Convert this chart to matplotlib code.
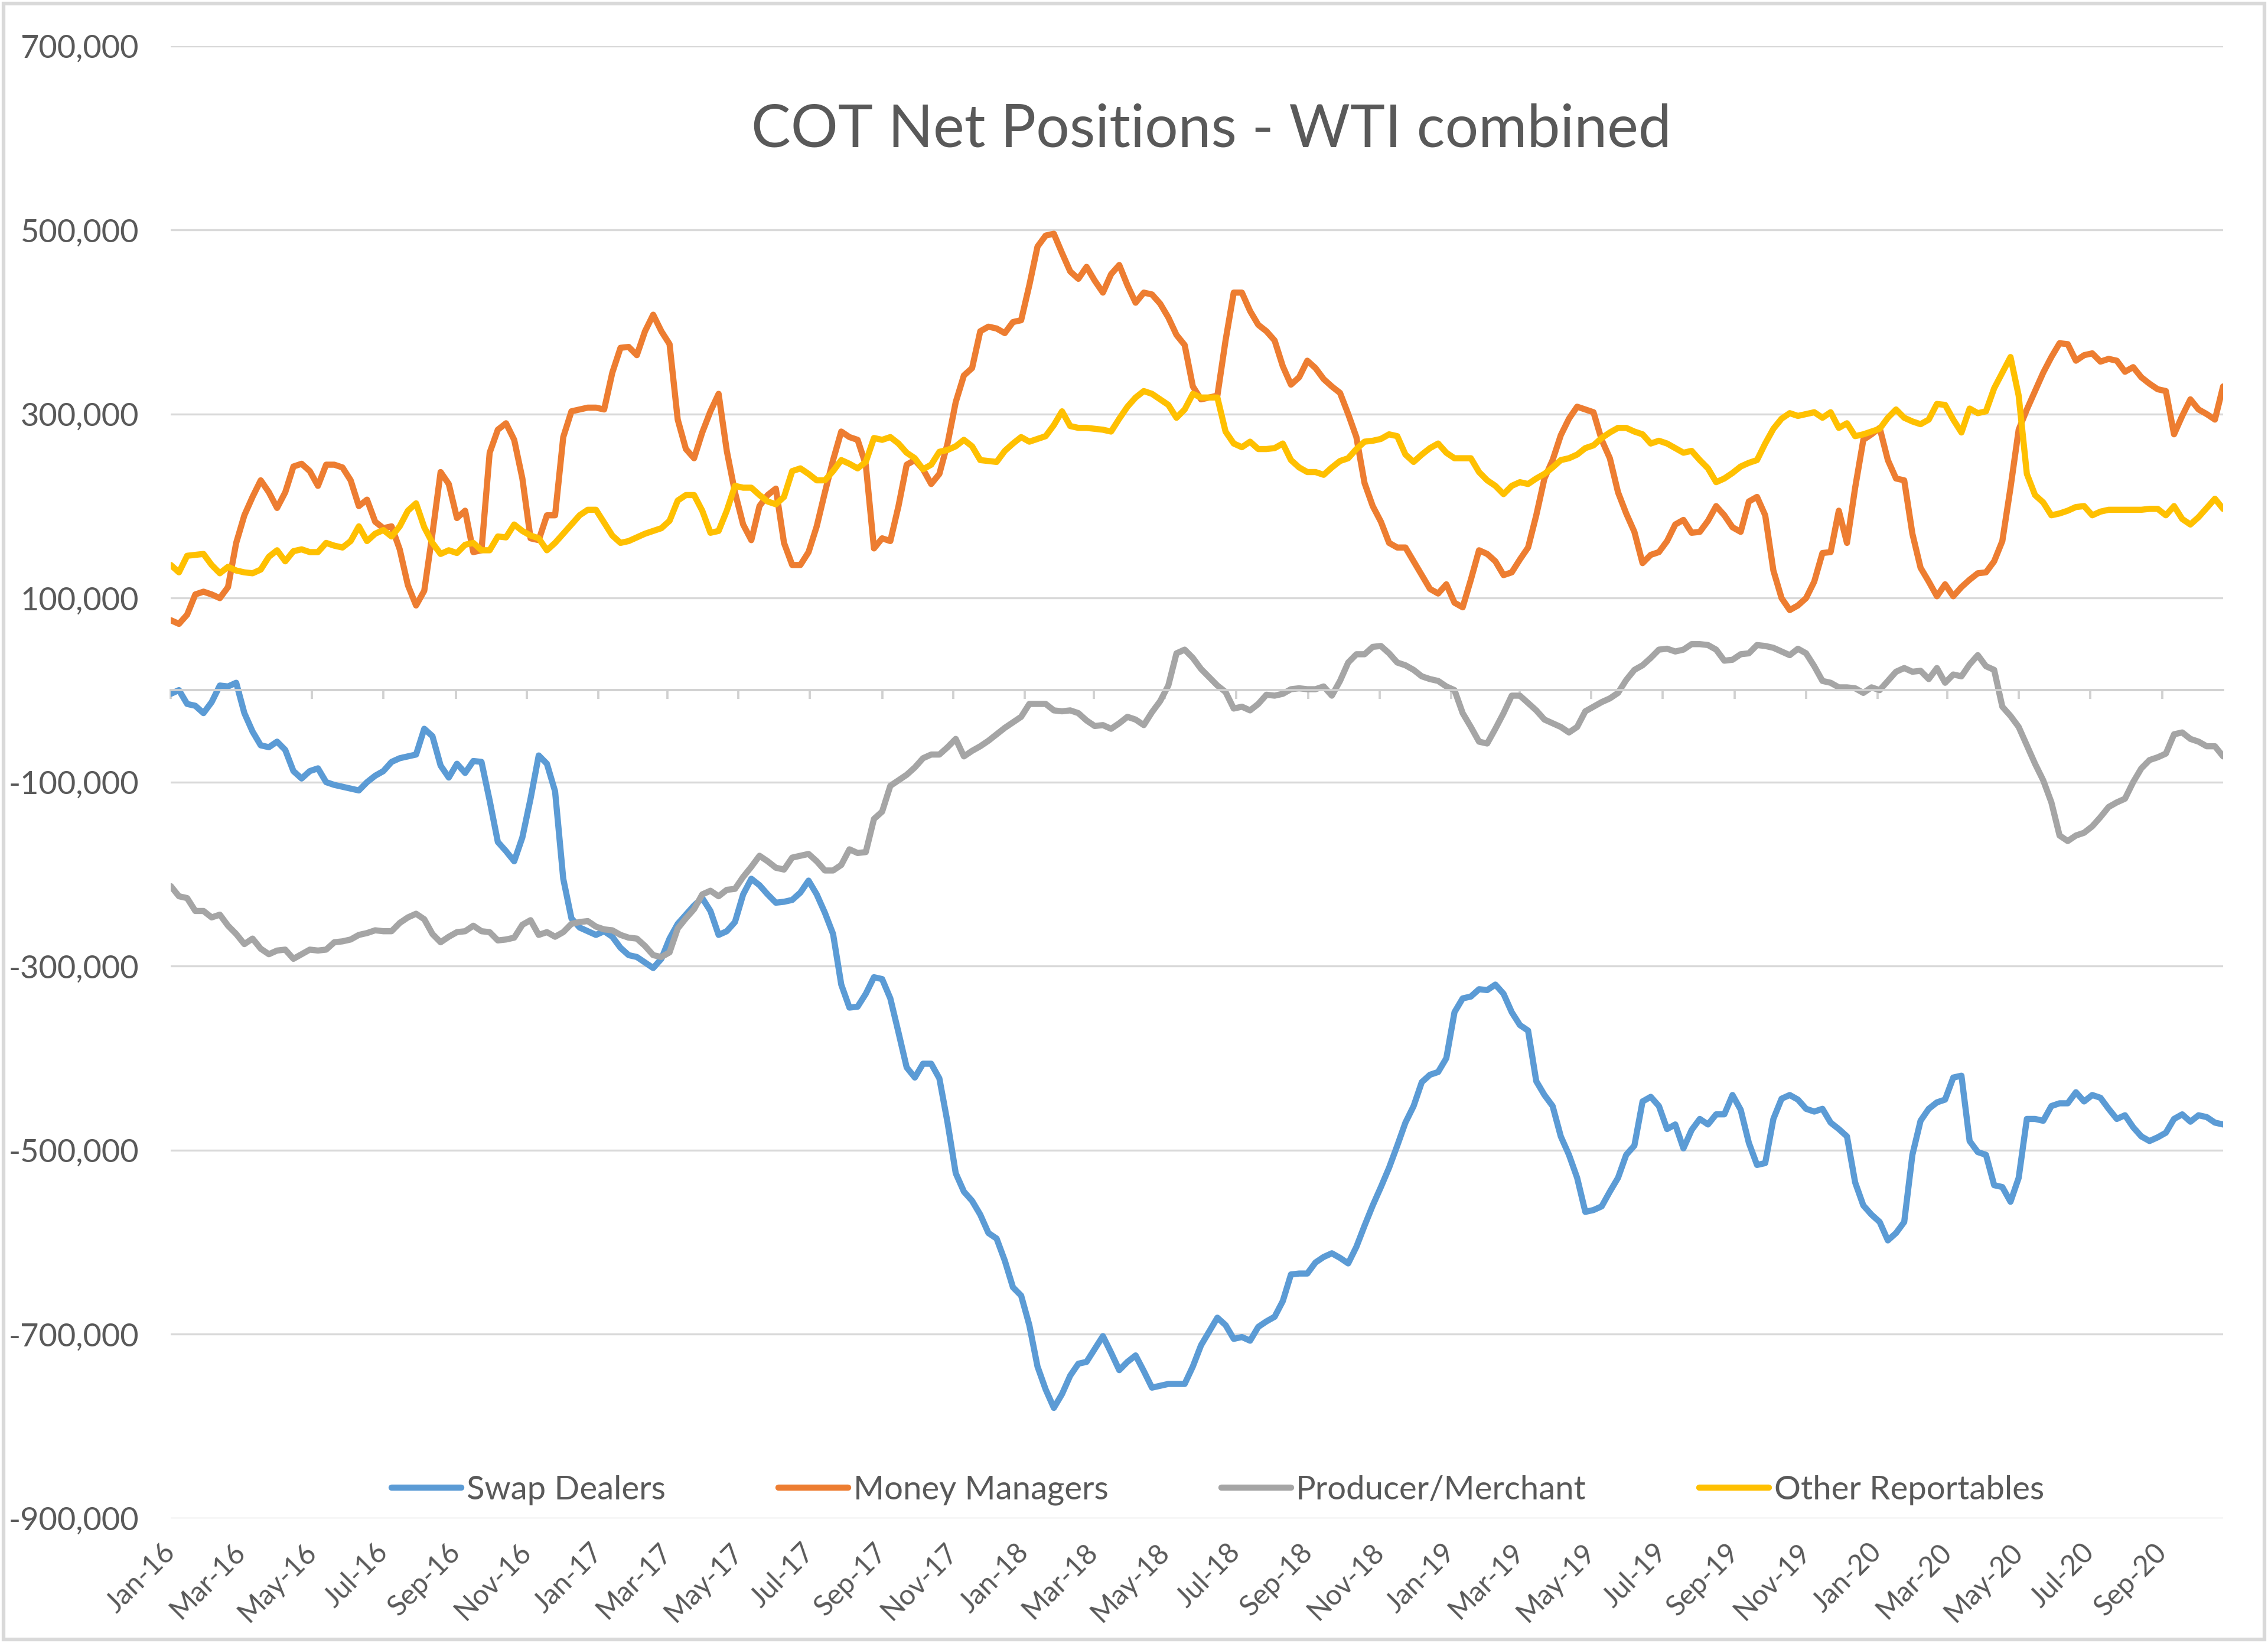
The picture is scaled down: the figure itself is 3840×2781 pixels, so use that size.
import matplotlib
matplotlib.use('Agg')
import matplotlib.pyplot as plt
import matplotlib.dates as mdates
from matplotlib.patches import Rectangle
from datetime import date, timedelta

plt.rcParams['font.family'] = ['Lato', 'DejaVu Sans']

# weekly COT reports, Tuesdays from 5 Jan 2016
n_weeks = 252
report_dates = [date(2016, 1, 5) + timedelta(weeks=i) for i in range(n_weeks)]

# net positions in thousands of contracts
swap_dealers = [
    -4, 0, -15, -17, -25, -13, 5, 4, 8, -25,
    -45, -60, -62, -56, -65, -88, -96, -88, -85, -100,
    -103, -105, -107, -109, -100, -93, -88, -78, -74, -72,
    -70, -42, -50, -82, -95, -80, -90, -77, -78, -120,
    -165, -175, -186, -160, -118, -71, -80, -110, -205, -248,
    -258, -262, -266, -262, -268, -280, -288, -290, -296, -302,
    -292, -270, -254, -244, -234, -226, -240, -266, -262, -252,
    -222, -205, -212, -222, -231, -230, -228, -220, -207, -222,
    -242, -265, -320, -345, -344, -330, -312, -314, -335, -372,
    -410, -421, -406, -406, -422, -470, -525, -545, -555, -570,
    -590, -596, -620, -649, -658, -690, -735, -760, -780, -765,
    -745, -732, -730, -716, -702, -720, -739, -730, -723, -740,
    -758, -756, -754, -754, -754, -735, -712, -697, -682, -690,
    -705, -703, -707, -692, -686, -681, -664, -635, -634, -634,
    -622, -616, -612, -617, -623, -605, -582, -560, -540, -519,
    -495, -470, -452, -426, -418, -415, -400, -350, -335, -333,
    -325, -326, -320, -330, -350, -364, -370, -425, -440, -452,
    -485, -505, -530, -567, -565, -561, -545, -530, -505, -495,
    -447, -442, -452, -477, -472, -498, -478, -466, -472, -461,
    -461, -440, -456, -492, -516, -514, -466, -444, -440, -445,
    -455, -458, -455, -470, -477, -485, -535, -560, -570, -578,
    -598, -590, -578, -505, -468, -455, -448, -445, -421, -419,
    -490, -502, -505, -538, -540, -556, -530, -466, -466, -468,
    -452, -449, -449, -437, -447, -440, -443, -455, -466, -462,
    -475, -485, -490, -486, -481, -466, -461, -469, -462, -464,
    -470, -472,
]

money_managers = [
    76, 72, 82, 104, 107, 104, 100, 112, 160, 190,
    210, 228, 215, 198, 215, 243, 246, 238, 222, 245,
    245, 242, 228, 200, 207, 183, 176, 178, 153, 114,
    92, 108, 170, 237, 224, 187, 195, 150, 152, 258,
    283, 290, 272, 230, 165, 163, 190, 190, 275, 303,
    305, 307, 307, 305, 345, 372, 373, 364, 390, 408,
    390, 376, 294, 262, 252, 280, 303, 322, 260, 215,
    180, 163, 200, 212, 219, 160, 136, 136, 150, 178,
    215, 250, 281, 275, 272, 245, 154, 165, 162, 200,
    245, 250, 240, 224, 235, 268, 313, 342, 350, 390,
    395, 393, 388, 400, 402, 440, 482, 494, 496, 475,
    455, 447, 460, 445, 432, 452, 462, 440, 421, 432,
    430, 420, 405, 386, 375, 330, 316, 318, 320, 380,
    432, 432, 412, 397, 390, 380, 352, 332, 340, 358,
    350, 338, 330, 323, 300, 275, 225, 200, 183, 160,
    155, 155, 140, 125, 110, 105, 115, 95, 90, 120,
    152, 148, 140, 125, 128, 142, 155, 190, 230, 250,
    277, 295, 308, 305, 302, 272, 252, 215, 192, 172,
    138, 147, 150, 162, 180, 185, 171, 172, 184, 200,
    190, 177, 172, 205, 210, 190, 130, 100, 87, 92,
    100, 118, 149, 150, 195, 160, 220, 272, 278, 285,
    250, 230, 228, 170, 133, 118, 102, 115, 102, 112,
    120, 127, 128, 140, 162, 220, 283, 305, 325, 345,
    362, 377, 376, 358, 364, 366, 357, 360, 358, 346,
    351, 340, 333, 327, 325, 278, 298, 316, 305, 300,
    294, 330,
]

producer_merchant = [
    -213, -224, -226, -240, -240, -247, -244, -256, -265, -276,
    -270, -281, -287, -283, -282, -292, -287, -282, -283, -282,
    -274, -273, -271, -266, -264, -261, -262, -262, -253, -247,
    -243, -249, -265, -274, -268, -263, -262, -256, -262, -263,
    -272, -271, -269, -255, -250, -266, -263, -268, -263, -254,
    -252, -251, -257, -260, -261, -266, -269, -270, -278, -288,
    -290, -285, -259, -248, -238, -222, -218, -224, -217, -216,
    -203, -192, -180, -186, -193, -195, -182, -180, -178, -186,
    -196, -196, -190, -173, -177, -176, -140, -132, -104, -98,
    -92, -84, -74, -70, -70, -62, -53, -72, -66, -61,
    -55, -48, -41, -35, -29, -15, -15, -15, -22, -23,
    -22, -25, -33, -39, -38, -42, -36, -29, -32, -38,
    -24, -12, 5, 40, 44, 35, 23, 14, 5, -2,
    -20, -18, -22, -15, -5, -6, -4, 1, 2, 1,
    1, 4, -6, 10, 30, 39, 39, 47, 48, 40,
    30, 27, 22, 15, 12, 10, 4, 0, -25, -40,
    -56, -58, -42, -25, -6, -6, -14, -22, -32, -36,
    -40, -46, -40, -23, -18, -13, -9, -3, 11, 22,
    27, 35, 44, 45, 42, 44, 50, 50, 49, 44,
    32, 33, 39, 40, 49, 48, 46, 42, 38, 45,
    40, 26, 10, 8, 3, 3, 2, -3, 3, 0,
    10, 20, 24, 20, 21, 12, 24, 8, 17, 15,
    28, 38, 26, 22, -18, -28, -40, -60, -80, -98,
    -122, -158, -164, -158, -155, -148, -138, -127, -122, -118,
    -100, -85, -76, -73, -69, -48, -46, -53, -56, -61,
    -61, -72,
]

other_reportables = [
    136, 128, 146, 147, 148, 136, 127, 134, 130, 128,
    127, 131, 145, 152, 140, 151, 153, 150, 150, 160,
    157, 155, 162, 178, 162, 170, 174, 167, 178, 195,
    203, 177, 160, 148, 152, 149, 158, 160, 152, 152,
    167, 166, 180, 173, 168, 165, 152, 160, 170, 180,
    190, 196, 196, 182, 168, 160, 162, 166, 170, 173,
    176, 184, 206, 212, 212, 195, 171, 173, 195, 222,
    220, 220, 212, 205, 202, 210, 238, 241, 235, 228,
    228, 238, 250, 246, 241, 248, 274, 272, 275, 268,
    258, 252, 240, 245, 259, 261, 265, 272, 265, 250,
    249, 248, 260, 268, 275, 270, 273, 276, 288, 303,
    287, 285, 285, 284, 283, 281, 295, 308, 318, 325,
    322, 316, 310, 296, 305, 322, 318, 318, 318, 281,
    268, 264, 270, 262, 262, 263, 268, 250, 242, 237,
    237, 234, 242, 249, 252, 262, 270, 271, 273, 278,
    276, 256, 248, 256, 263, 268, 258, 252, 252, 252,
    237, 228, 222, 213, 222, 226, 224, 230, 235, 242,
    250, 252, 256, 263, 266, 274, 280, 285, 285, 281,
    278, 268, 271, 268, 263, 258, 260, 250, 241, 226,
    230, 236, 243, 247, 250, 268, 284, 295, 301, 298,
    300, 302, 296, 302, 285, 290, 276, 278, 281, 284,
    296, 305, 296, 292, 289, 294, 311, 310, 294, 280,
    306, 301, 303, 328, 345, 362, 320, 235, 212, 204,
    190, 192, 195, 199, 200, 190, 194, 196, 196, 196,
    196, 196, 197, 197, 190, 200, 186, 180, 188, 198,
    208, 197,
]

series_names = ['Swap Dealers', 'Money Managers', 'Producer/Merchant', 'Other Reportables']
series_colors = ['#5B9BD5', '#ED7D31', '#A5A5A5', '#FFC000']
series_values = [swap_dealers, money_managers, producer_merchant, other_reportables]

# axis ticks every two months from the first report
tick_dates = [date(2016 + (2 * k) // 12, (2 * k) % 12 + 1, 5) for k in range(29)]
tick_labels = [d.strftime('%b-%y') for d in tick_dates]
y_ticks = list(range(-900000, 700001, 200000))

text_color = '#595959'
grid_color = '#d9d9d9'

fig = plt.figure(figsize=(12.8, 9.27), dpi=300)
ax = fig.add_axes([0.0753, 0.0759, 0.9049, 0.8961])

handles = []
for name, color, vals in zip(series_names, series_colors, series_values):
    line, = ax.plot(report_dates, [v * 1000 for v in vals], color=color, lw=2.5,
                    label=name, solid_joinstyle='round', solid_capstyle='round')
    handles.append(line)

ax.set_xlim(report_dates[0], report_dates[-1])
ax.set_ylim(-900000, 700000)
ax.set_yticks(y_ticks)
ax.set_yticklabels([f'{v:,}' for v in y_ticks])
ax.grid(axis='y', color=grid_color, lw=0.8)
ax.set_axisbelow(True)

for side in ['left', 'right', 'top']:
    ax.spines[side].set_visible(False)
# horizontal axis line sits at zero with small tick marks below it
ax.spines['bottom'].set_position(('data', 0))
ax.spines['bottom'].set_color('#d0d0d0')
ax.spines['bottom'].set_linewidth(0.9)

tick_nums = mdates.date2num(tick_dates)
ax.set_xticks(tick_nums)
ax.tick_params(axis='x', length=3.5, width=0.9, color='#d0d0d0', direction='out', labelbottom=False)
ax.tick_params(axis='y', length=0, pad=13, labelsize=13, labelcolor=text_color)

# date labels hang below the plot area
sec = ax.secondary_xaxis('bottom')
sec.set_xticks(tick_nums, labels=tick_labels)
sec.spines['bottom'].set_visible(False)
sec.tick_params(length=0, pad=12, labelsize=11.5, labelcolor=text_color)
for lbl in sec.get_xticklabels():
    lbl.set_rotation(45)
    lbl.set_ha('right')
    lbl.set_va('center')
    lbl.set_rotation_mode('anchor')

fig.text(0.534, 0.921, 'COT Net Positions - WTI combined', ha='center', va='center',
         fontsize=24, color=text_color)

fig.legend(handles, series_names, loc='center', bbox_to_anchor=(0.537, 0.093), ncol=4,
           frameon=False, fontsize=13.5, handlelength=2.1, handletextpad=0.15,
           columnspacing=3.4, labelcolor=text_color)

# light chart border
fig.add_artist(Rectangle((0.0015, 0.002), 0.997, 0.996, transform=fig.transFigure,
                         fill=False, ec=grid_color, lw=1.5))

fig.savefig('out.png', dpi=300)
